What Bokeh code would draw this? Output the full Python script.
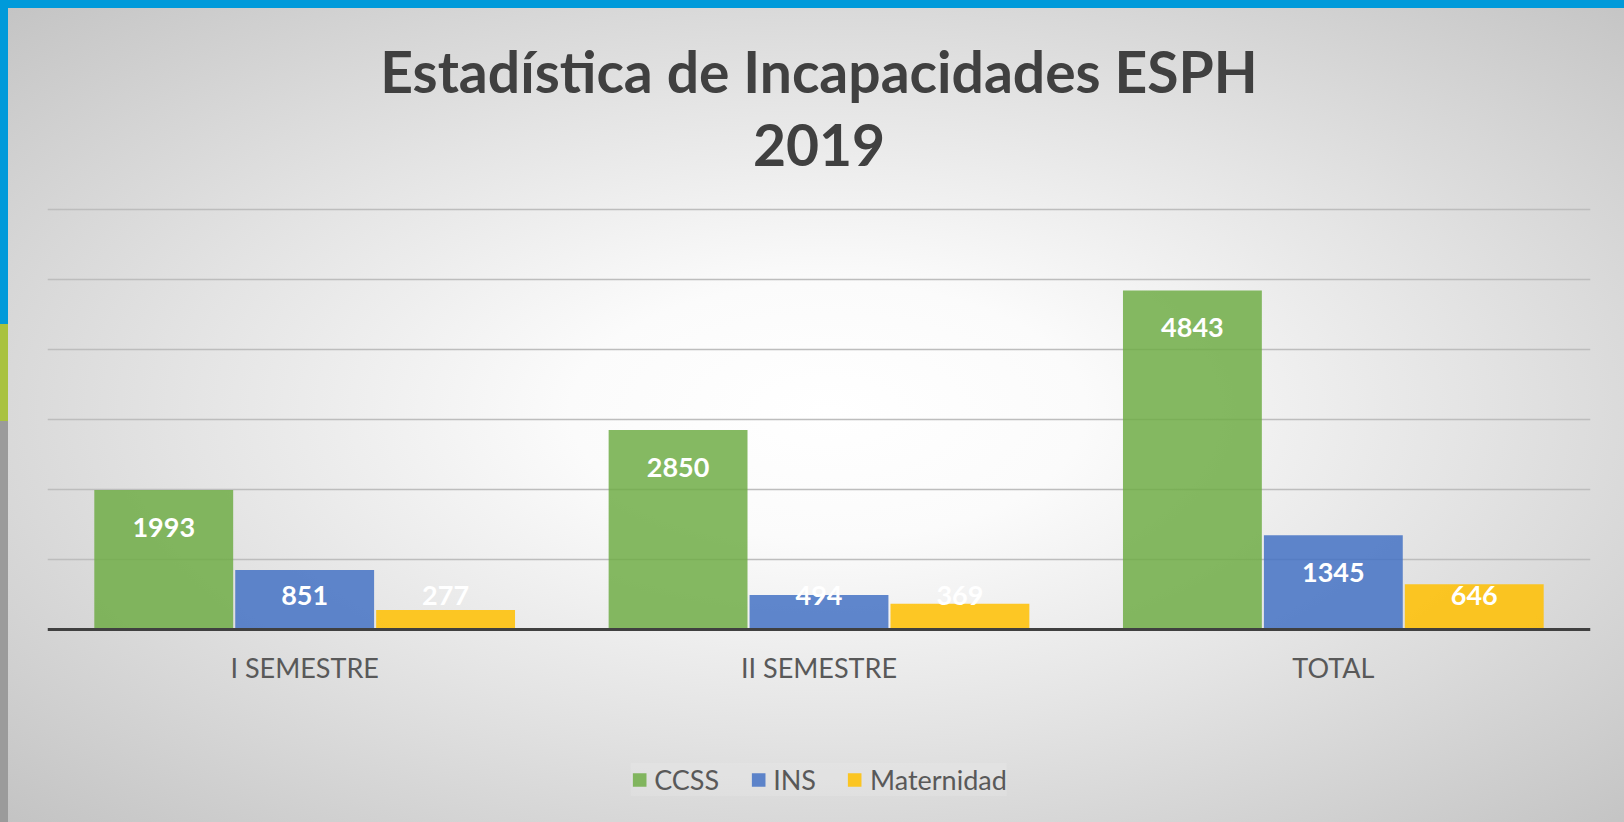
from bokeh.plotting import figure
from bokeh.models import FactorRange, Range1d, FixedTicker, Legend, LegendItem, Title, ColumnDataSource
from bokeh.transform import dodge
from bokeh.core.properties import value
from bokeh.embed import file_html
from bokeh.resources import INLINE

# ---- data ----
categories = ["I SEMESTRE", "II SEMESTRE", "TOTAL"]
ccss = [1993, 2850, 4843]
ins = [851, 494, 1345]
maternidad = [277, 369, 646]
series_names = ["CCSS", "INS", "Maternidad"]
y_ticks = [1000, 2000, 3000, 4000, 5000, 6000]
y_max = 6000
title_line1 = "Estadística de Incapacidades ESPH"
title_line2 = "2019"

colors = ["#70AD47", "#4472C4", "#FFC000"]
offsets = [-0.274, 0.0, 0.274]
FONT = "Lato"

W, H = 1624, 822
frame_top_px = 183          # top of frame (above the 6000 gridline)
axis_px = 629               # pixel row of the value-zero axis
top_grid_px = 209           # pixel row of the 6000 gridline
units_per_px = y_max / (axis_px - top_grid_px)
y_end = y_max + (top_grid_px - frame_top_px) * units_per_px
y_start = -(H - axis_px) * units_per_px

p = figure(width=W, height=H,
           x_range=FactorRange(*categories), y_range=Range1d(y_start, y_end),
           output_backend="svg", toolbar_location=None,
           min_border_left=47, min_border_right=34,
           min_border_top=frame_top_px, min_border_bottom=0)

p.background_fill_color = None
p.border_fill_color = None
p.outline_line_color = None
p.styles = {
    "background": (
        "linear-gradient(#009ADA,#009ADA) 0 0 / 100% 8px no-repeat,"
        "linear-gradient(to bottom,#009ADA 0px,#009ADA 324px,#A9C23F 324px,#A9C23F 421px,#9B9B9B 421px) 0 0 / 8px 100% no-repeat,"
        "radial-gradient(ellipse farthest-corner at 51% 50%, #ffffff 0%, #fbfbfb 22%, #e4e4e4 55%, #c3c3c3 100%)"
    )
}

all_series = [ccss, ins, maternidad]
renderers = []
for i, vals in enumerate(all_series):
    src = ColumnDataSource(dict(
        x=categories, top=vals,
        ly=[max(v - 530, 490) for v in vals],
        lbl=[str(v) for v in vals]))
    r = p.vbar(x=dodge("x", offsets[i], range=p.x_range), top="top", bottom=0, width=0.27,
               source=src, fill_color=colors[i], fill_alpha=0.85, line_color=None)
    renderers.append(r)
    p.text(x=dodge("x", offsets[i], range=p.x_range), y="ly", text="lbl", source=src,
           text_color="white", text_font=value(FONT), text_font_style="bold",
           text_font_size="27px", text_align="center", text_baseline="middle")

# axes / grid
p.yaxis.visible = False
p.xgrid.grid_line_color = None
p.ygrid.ticker = FixedTicker(ticks=y_ticks)
p.ygrid.grid_line_color = "#BDBDBD"
p.ygrid.grid_line_width = 1.5

p.xaxis.fixed_location = 0
p.xaxis.axis_line_width = 3
p.xaxis.axis_line_color = "#404040"
p.xaxis.major_tick_line_color = None
p.xaxis.minor_tick_line_color = None
p.xaxis.major_tick_in = 0
p.xaxis.major_tick_out = 0
p.xaxis.major_label_text_font = FONT
p.xaxis.major_label_text_font_size = "27px"
p.xaxis.major_label_text_color = "#595959"
p.xaxis.major_label_standoff = 21

# titles (p.title is the outer line, the added Title sits closest to the frame)
p.title.text = title_line1
p.title.align = "center"
p.title.text_font = FONT
p.title.text_font_style = "bold"
p.title.text_font_size = "57px"
p.title.text_color = "#404040"
p.title.standoff = 0
t2 = Title(text=title_line2, align="center", text_font=FONT, text_font_style="bold",
           text_font_size="57px", text_color="#404040", standoff=35)
p.add_layout(t2, "above")

legend = Legend(items=[LegendItem(label=series_names[i], renderers=[renderers[i]]) for i in range(3)],
                orientation="horizontal", location="bottom", margin=26,
                label_text_font=FONT, label_text_font_size="27px", label_text_color="#595959",
                glyph_width=17, glyph_height=17, label_standoff=7, spacing=30,
                padding=18, background_fill_color="white", background_fill_alpha=0.12,
                border_line_color=None)
p.add_layout(legend)

open("out.html", "w").write(file_html(p, INLINE))
